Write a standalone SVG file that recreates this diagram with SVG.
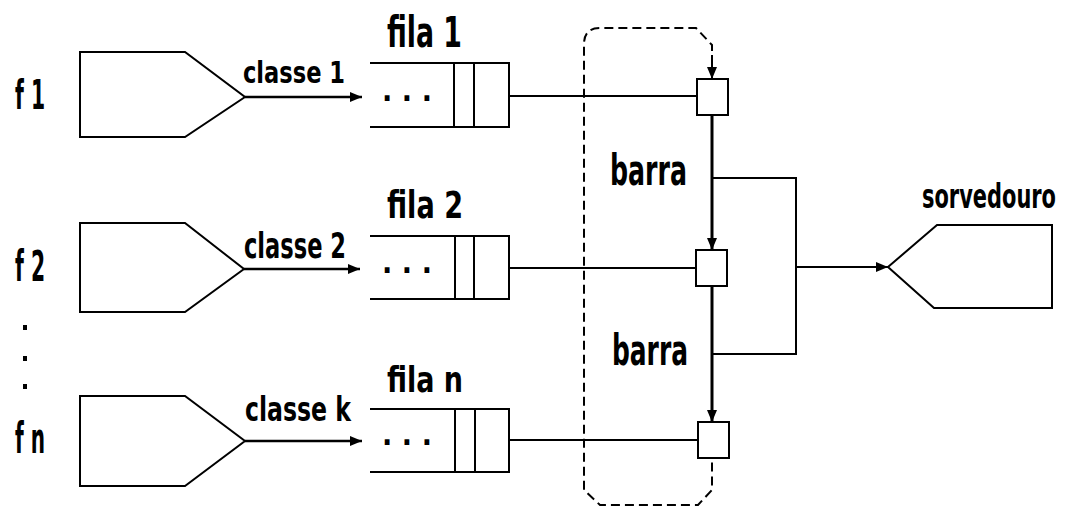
<svg xmlns="http://www.w3.org/2000/svg" width="1066" height="508" viewBox="0 0 1066 508">
<style>
.ln{fill:none;stroke:#000;stroke-width:2}
.ar{fill:none;stroke:#000;stroke-width:2.5}
.bar{fill:none;stroke:#000;stroke-width:3}
.sh{fill:#fff;stroke:#000;stroke-width:2}
.dash{fill:none;stroke:#000;stroke-width:2;stroke-dasharray:9 5}
.t{font-family:"DejaVu Sans Condensed","DejaVu Sans","Liberation Sans",sans-serif;font-weight:bold;fill:#000}
</style>
<defs>
<marker id="ah" viewBox="0 0 12 10" refX="12" refY="5" markerWidth="12" markerHeight="10" markerUnits="userSpaceOnUse" orient="auto">
<path d="M0,0 L12,5 L0,10 z" fill="#000"/>
</marker>
</defs>
<rect width="1066" height="508" fill="#fff"/>

<g id="bus-region">
<path class="dash" d="M712,79 L712,45 L696,28 L600,28 Q584,28 584,44 L584,490 L600,505 L698,505 L712,490 L712,457"/>
</g>

<g id="connectors">
<line class="ar" x1="245" y1="97" x2="362" y2="97" marker-end="url(#ah)"/>
<line class="ar" x1="244" y1="269" x2="360" y2="269" marker-end="url(#ah)"/>
<line class="ar" x1="245" y1="441" x2="362" y2="441" marker-end="url(#ah)"/>
<line class="ln" x1="509" y1="96" x2="697" y2="96"/>
<line class="ln" x1="509" y1="268" x2="697" y2="268"/>
<line class="ln" x1="509" y1="440" x2="697" y2="440"/>
<line class="ln" x1="712" y1="55" x2="712" y2="79" marker-end="url(#ah)"/>
<line class="bar" x1="712" y1="115" x2="712" y2="250" marker-end="url(#ah)"/>
<line class="bar" x1="712" y1="286" x2="712" y2="422" marker-end="url(#ah)"/>
<polyline class="ln" points="712,178 796,178 796,354 712,354"/>
<line class="ln" x1="796" y1="267" x2="888" y2="267" marker-end="url(#ah)"/>
</g>

<g id="source1">
<polygon class="sh" points="80,52 185,52 245,97 185,137 80,137"/>
<text class="t" x="15" y="109" font-size="40" textLength="30" lengthAdjust="spacingAndGlyphs">f 1</text>
</g>
<g id="source2">
<polygon class="sh" points="80,223 185,223 244,269 185,312 80,312"/>
<text class="t" x="15" y="281" font-size="42" textLength="30" lengthAdjust="spacingAndGlyphs">f 2</text>
</g>
<g id="source-ellipsis">
<rect x="23" y="325" width="4" height="5" fill="#000"/>
<rect x="23" y="356" width="4" height="5" fill="#000"/>
<rect x="23" y="384" width="4" height="5" fill="#000"/>
</g>
<g id="source3">
<polygon class="sh" points="80,396 185,396 245,441 185,486 80,486"/>
<text class="t" x="15" y="453" font-size="42" textLength="30" lengthAdjust="spacingAndGlyphs">f n</text>
</g>

<g id="label-classes">
<text class="t" x="243" y="83" font-size="31" textLength="102" lengthAdjust="spacingAndGlyphs">classe 1</text>
<text class="t" x="244" y="258" font-size="35" textLength="102" lengthAdjust="spacingAndGlyphs">classe 2</text>
<text class="t" x="245" y="421" font-size="33" textLength="106" lengthAdjust="spacingAndGlyphs">classe k</text>
</g>

<g id="queue1">
<text class="t" x="387" y="47" font-size="42" textLength="75" lengthAdjust="spacingAndGlyphs">fila 1</text>
<polyline class="ln" points="370,63 509,63 509,127 370,127"/>
<line class="ln" x1="454" y1="63" x2="454" y2="127"/>
<line class="ln" x1="474" y1="63" x2="474" y2="127"/>
<text class="t" x="382" y="101" font-size="30" textLength="50" lengthAdjust="spacing">...</text>
</g>
<g id="queue2">
<text class="t" x="387" y="218" font-size="37" textLength="76" lengthAdjust="spacingAndGlyphs">fila 2</text>
<polyline class="ln" points="370,236 509,236 509,299 370,299"/>
<line class="ln" x1="455" y1="236" x2="455" y2="299"/>
<line class="ln" x1="474" y1="236" x2="474" y2="299"/>
<text class="t" x="382" y="273" font-size="30" textLength="50" lengthAdjust="spacing">...</text>
</g>
<g id="queue3">
<text class="t" x="387" y="392" font-size="35" textLength="76" lengthAdjust="spacingAndGlyphs">fila n</text>
<polyline class="ln" points="370,409 509,409 509,472 370,472"/>
<line class="ln" x1="455" y1="409" x2="455" y2="472"/>
<line class="ln" x1="475" y1="409" x2="475" y2="472"/>
<text class="t" x="382" y="445" font-size="30" textLength="50" lengthAdjust="spacing">...</text>
</g>

<g id="server1"><rect class="sh" x="697" y="79" width="31" height="36"/></g>
<g id="server2"><rect class="sh" x="696" y="250" width="31" height="36"/></g>
<g id="server3"><rect class="sh" x="698" y="422" width="31" height="36"/></g>

<g id="label-barra">
<text class="t" x="610" y="185" font-size="42" textLength="77" lengthAdjust="spacingAndGlyphs">barra</text>
<text class="t" x="612" y="365" font-size="42" textLength="76" lengthAdjust="spacingAndGlyphs">barra</text>
</g>

<g id="sink">
<polygon class="sh" points="888,267 937,225 1052,225 1052,308 934,308"/>
<text class="t" transform="translate(922,208) scale(1,1.5)" x="0" y="0" font-size="22" textLength="134" lengthAdjust="spacingAndGlyphs">sorvedouro</text>
</g>
</svg>
